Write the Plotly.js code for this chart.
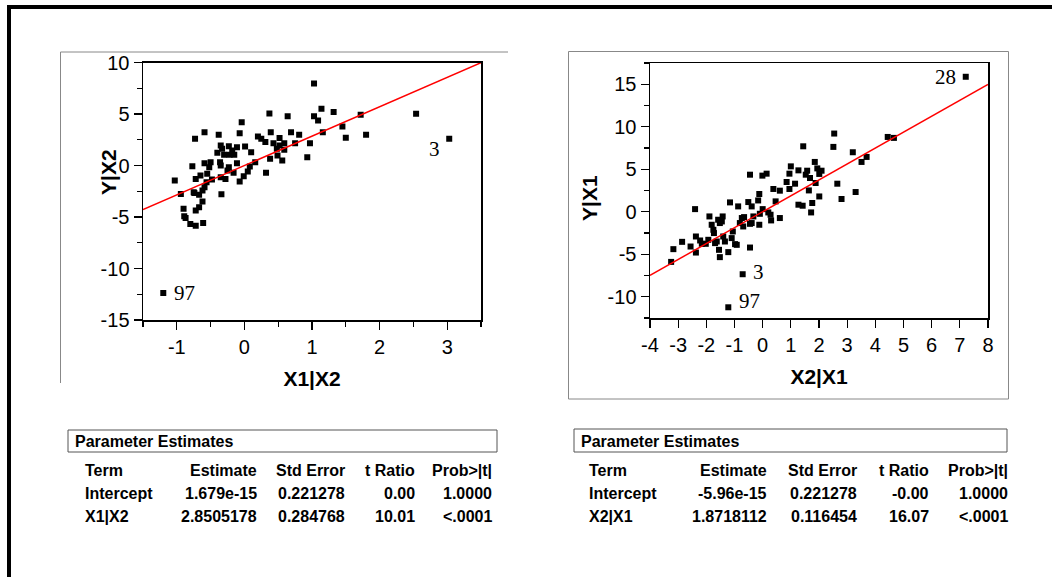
<!DOCTYPE html>
<html>
<head>
<meta charset="utf-8">
<script src="https://cdn.plot.ly/plotly-3.0.1.min.js"></script>
<style>html,body{margin:0;padding:0;background:#fff;}#chart{width:1052px;height:577px;}</style>
</head>
<body>
<div id="chart"></div>
<script>
// ---- Left leverage plot: Y|X2 vs X1|X2 ----
const leftX = [1.03,1.14,1.32,1.03,1.09,1.16,0.97,0.93,0.37,0.64,-0.04,-0.59,-0.73,-0.38,-0.07,0.20,0.25,0.31,0.39,0.52,0.69,0.81,0.75,0.43,0.52,0.59,0.48,0.59,0.49,0.38,0.56,0.32,0.16,0.01,0.10,-0.11,0.08,0.05,-0.01,-0.07,-0.35,-0.33,-0.40,-0.30,-0.23,-0.18,-0.11,-0.15,-0.22,-0.36,-0.35,-0.23,-0.25,-0.16,-0.35,-0.28,-0.34,-0.50,-0.59,-0.52,-0.55,-0.65,-0.72,-0.77,-0.48,-0.56,-0.59,-0.62,-0.75,-0.67,-0.62,-0.67,-0.72,-0.90,-0.89,-0.87,-0.80,-0.72,-0.61,-0.94,-1.03,-0.74,-1.20,1.72,1.45,1.50,1.80,2.54,3.03];
const leftY = [7.95,5.50,5.20,4.77,4.38,3.24,2.17,0.81,5.06,4.77,4.21,3.24,2.60,2.99,3.14,2.82,2.60,2.27,3.24,2.66,3.24,2.99,2.17,2.17,1.95,2.17,1.62,1.53,0.97,0.65,0.49,-0.71,0.32,1.85,1.29,0.22,-0.10,-0.58,-1.04,-1.56,1.95,1.62,1.24,1.04,1.88,1.46,1.78,1.04,1.04,0.32,0.00,-0.16,-0.49,-0.71,-1.14,-1.30,-2.79,0.32,0.22,-0.16,-0.81,-0.97,-1.30,-0.07,-1.36,-1.62,-2.11,-2.43,-2.60,-2.85,-3.50,-4.05,-4.38,-4.21,-4.93,-5.09,-5.67,-5.84,-5.58,-2.76,-1.46,-2.66,-12.38,4.93,3.79,2.69,2.99,5.03,2.60];
const leftLabelIdx = [82, 88];
const leftLabelText = ['97', '3'];
const leftXTitle = 'X1|X2';
const leftYTitle = 'Y|X2';
const leftXRange = [-1.5, 3.5];
const leftYRange = [-15, 10];
const leftXTicks = [-1, 0, 1, 2, 3];
const leftYTicks = [-15, -10, -5, 0, 5, 10];
const leftSlope = 2.8505178;
const leftIntercept = 1.679e-15;

// ---- Right leverage plot: Y|X1 vs X2|X1 ----
const rightX = [-3.25,-3.17,-2.86,-2.56,-2.37,-2.37,-2.22,-2.16,-2.02,-1.93,-2.40,-1.89,-1.81,-1.75,-1.73,-1.69,-1.63,-1.58,-1.52,-1.42,-1.45,-1.55,-1.52,-1.40,-1.34,-1.16,-1.10,-1.06,-0.98,-1.22,-0.92,-0.87,-0.81,-0.74,-0.69,-0.66,-0.51,-0.45,-0.45,-0.39,-0.45,-0.39,-0.33,-0.16,-0.12,-0.10,-0.12,-0.01,0.14,0.00,0.20,0.28,0.30,0.38,0.46,0.61,0.61,0.85,0.95,0.95,1.00,1.15,1.27,1.42,1.27,1.44,1.53,1.58,1.64,1.68,1.72,1.76,1.85,1.88,1.94,2.01,2.01,2.09,2.51,2.54,2.65,2.80,3.20,3.30,3.51,3.69,4.44,4.66,7.21,-0.71,-1.22];
const rightY = [-5.90,-4.40,-3.54,-4.09,-2.91,-4.80,-3.38,-3.77,-3.77,-3.30,0.31,-0.55,-1.53,-2.12,-2.51,-3.69,-3.50,-0.94,-1.33,-0.55,-1.14,-4.48,-5.34,-2.91,-3.50,1.10,-3.10,-2.32,-3.81,-4.75,-3.89,0.63,-1.33,-0.74,-1.73,-0.63,1.14,4.36,-4.21,0.63,-1.42,-1.33,-0.55,1.33,2.09,-0.24,-1.53,4.25,4.48,0.31,-0.08,-0.35,-1.02,2.68,1.22,-0.74,2.48,3.50,2.68,4.48,5.34,3.30,0.83,0.71,4.87,7.70,4.36,4.83,2.51,3.97,-0.08,1.03,5.86,3.38,5.10,1.80,4.45,4.83,7.63,9.20,3.30,1.50,7.00,2.32,5.86,6.45,8.80,8.69,15.88,-7.35,-11.24];
const rightLabelIdx = [88, 89, 90];
const rightLabelText = ['28', '3', '97'];
const rightXTitle = 'X2|X1';
const rightYTitle = 'Y|X1';
const rightXRange = [-4, 8];
const rightYRange = [-12.5, 17.5];
const rightXTicks = [-4, -3, -2, -1, 0, 1, 2, 3, 4, 5, 6, 7, 8];
const rightYTicks = [-10, -5, 0, 5, 10, 15];
const rightSlope = 1.8718112;
const rightIntercept = -5.96e-15;

// ---- Parameter estimate tables ----
const tableTitle = 'Parameter Estimates';
const tableCols = ['Term', 'Estimate', 'Std Error', 't Ratio', 'Prob&gt;|t|'];
const leftTerms = ['Intercept', 'X1|X2'];
const leftEstimate = ['1.679e-15', '2.8505178'];
const leftStdErr = ['0.221278', '0.284768'];
const leftTRatio = ['0.00', '10.01'];
const leftProb = ['1.0000', '&lt;.0001'];
const rightTerms = ['Intercept', 'X2|X1'];
const rightEstimate = ['-5.96e-15', '1.8718112'];
const rightStdErr = ['0.221278', '0.116454'];
const rightTRatio = ['-0.00', '16.07'];
const rightProb = ['1.0000', '&lt;.0001'];

// ---------------- drawing ----------------
const W = 1052, H = 577;
const PX = v => v / W;
const PY = v => 1 - v / H;
const FONT = 'Arial, "Liberation Sans", sans-serif';
const SERIF = '"Times New Roman", "Liberation Serif", serif';

function axisCommon(range, ticks, minorDtick, title, standoff) {
  const a = {
    range: range, autorange: false, fixedrange: true,
    tickmode: 'array', tickvals: ticks, ticktext: ticks.map(v => String(v)),
    ticks: 'outside', ticklen: 8, tickwidth: 1.3, tickcolor: '#000',
    showline: true, linecolor: '#000', linewidth: 1.5, mirror: true,
    showgrid: false, zeroline: false,
    tickfont: {family: FONT, size: 20, color: '#000'},
    title: {text: title, font: {family: FONT, size: 21, color: '#000', weight: 'bold'}, standoff: standoff},
    automargin: false
  };
  if (minorDtick) {
    a.minor = {tickmode: 'linear', dtick: minorDtick, tick0: 0, ticks: 'outside', ticklen: 5, tickwidth: 1.2, tickcolor: '#000', showgrid: false};
  }
  return a;
}

const traces = [
  {x: leftX, y: leftY, type: 'scatter', mode: 'markers', xaxis: 'x', yaxis: 'y',
   marker: {symbol: 'square', size: 6, color: '#000'}, hoverinfo: 'x+y', showlegend: false},
  {x: leftXRange, y: leftXRange.map(v => leftIntercept + leftSlope * v), type: 'scatter', mode: 'lines',
   xaxis: 'x', yaxis: 'y', line: {color: '#ff0000', width: 1.5}, hoverinfo: 'skip', showlegend: false},
  {x: rightX, y: rightY, type: 'scatter', mode: 'markers', xaxis: 'x2', yaxis: 'y2',
   marker: {symbol: 'square', size: 6, color: '#000'}, hoverinfo: 'x+y', showlegend: false},
  {x: rightXRange, y: rightXRange.map(v => rightIntercept + rightSlope * v), type: 'scatter', mode: 'lines',
   xaxis: 'x2', yaxis: 'y2', line: {color: '#ff0000', width: 1.5}, hoverinfo: 'skip', showlegend: false}
];

const annotations = [];
// point labels
const leftLabelStyle = [{xanchor: 'left', xshift: 9, yshift: 0}, {xanchor: 'right', xshift: -7, yshift: -10}];
leftLabelIdx.forEach((idx, i) => {
  annotations.push(Object.assign({x: leftX[idx], y: leftY[idx], xref: 'x', yref: 'y', text: leftLabelText[i],
    showarrow: false, yanchor: 'middle', font: {family: SERIF, size: 21, color: '#000'}}, leftLabelStyle[i]));
});
const rightLabelStyle = [{xanchor: 'right', xshift: -8, yshift: 0}, {xanchor: 'left', xshift: 8, yshift: 2}, {xanchor: 'left', xshift: 9, yshift: 6}];
rightLabelIdx.forEach((idx, i) => {
  annotations.push(Object.assign({x: rightX[idx], y: rightY[idx], xref: 'x2', yref: 'y2', text: rightLabelText[i],
    showarrow: false, yanchor: 'middle', font: {family: SERIF, size: 21, color: '#000'}}, rightLabelStyle[i]));
});

// vertical axis titles (placed tight against the tick labels, as in the reference)
const yTitleFont = {family: FONT, size: 21, color: '#000', weight: 'bold'};
annotations.push({xref: 'paper', yref: 'paper', x: PX(109), y: PY(172), text: leftYTitle, textangle: -90,
  showarrow: false, xanchor: 'center', yanchor: 'middle', font: yTitleFont});
annotations.push({xref: 'paper', yref: 'paper', x: PX(589), y: PY(198), text: rightYTitle, textangle: -90,
  showarrow: false, xanchor: 'center', yanchor: 'middle', font: yTitleFont});

// tables
function addTable(x0, x1, colPos, terms, est, se, tr, pr) {
  const tf = {family: FONT, size: 16, color: '#000'};
  annotations.push({xref: 'paper', yref: 'paper', x: PX(x0 + 5), y: PY(441), xanchor: 'left', yanchor: 'middle',
    text: '<b>' + tableTitle + '</b>', showarrow: false, font: tf});
  const rowsY = [470, 493, 516];
  const data = [tableCols, [terms[0], est[0], se[0], tr[0], pr[0]], [terms[1], est[1], se[1], tr[1], pr[1]]];
  data.forEach((row, r) => {
    row.forEach((txt, c) => {
      annotations.push({xref: 'paper', yref: 'paper', x: PX(colPos[c]), y: PY(rowsY[r]),
        xanchor: c === 0 ? 'left' : 'right', yanchor: 'middle', text: '<b>' + txt + '</b>',
        showarrow: false, font: tf});
    });
  });
}
addTable(68, 497, [83, 259, 347, 417, 494], leftTerms, leftEstimate, leftStdErr, leftTRatio, leftProb);
addTable(574, 1007, [587, 769, 859, 931, 1010], rightTerms, rightEstimate, rightStdErr, rightTRatio, rightProb);

const shapes = [
  // outer thick frame (top + left)
  {type: 'line', xref: 'paper', yref: 'paper', x0: PX(7), x1: PX(1052), y0: PY(7), y1: PY(7), line: {color: '#000', width: 4}},
  {type: 'line', xref: 'paper', yref: 'paper', x0: PX(9), x1: PX(9), y0: PY(5), y1: PY(577), line: {color: '#000', width: 4}},
  // left panel gray frame
  {type: 'line', xref: 'paper', yref: 'paper', x0: PX(60.5), x1: PX(60.5), y0: PY(52), y1: PY(383), line: {color: '#888', width: 1}},
  {type: 'line', xref: 'paper', yref: 'paper', x0: PX(60.5), x1: PX(508), y0: PY(52), y1: PY(52), line: {color: '#888', width: 1}},
  // right panel gray frame
  {type: 'rect', xref: 'paper', yref: 'paper', x0: PX(568.5), x1: PX(1008.5), y0: PY(51.5), y1: PY(399), line: {color: '#888', width: 1}},
  // table header boxes
  {type: 'rect', xref: 'paper', yref: 'paper', x0: PX(68), x1: PX(497), y0: PY(430), y1: PY(452), line: {color: '#555', width: 1}},
  {type: 'rect', xref: 'paper', yref: 'paper', x0: PX(574), x1: PX(1007), y0: PY(429), y1: PY(452), line: {color: '#555', width: 1}}
];

const layout = {
  width: W, height: H,
  margin: {l: 0, r: 0, t: 0, b: 0, pad: 0},
  paper_bgcolor: '#fff', plot_bgcolor: '#fff',
  showlegend: false,
  font: {family: FONT, color: '#000'},
  xaxis: Object.assign(axisCommon(leftXRange, leftXTicks, 0.5, leftXTitle, 15), {domain: [PX(143), PX(481)], anchor: 'y'}),
  yaxis: Object.assign(axisCommon(leftYRange, leftYTicks, 2.5, '', 10), {domain: [PY(320), PY(62.5)], anchor: 'x'}),
  xaxis2: Object.assign(axisCommon(rightXRange, rightXTicks, null, rightXTitle, 15), {domain: [PX(650), PX(988)], anchor: 'y2'}),
  yaxis2: Object.assign(axisCommon(rightYRange, rightYTicks, 2.5, '', 10), {domain: [PY(318), PY(63)], anchor: 'x2'}),
  annotations: annotations,
  shapes: shapes
};

Plotly.newPlot('chart', traces, layout, {staticPlot: true, displayModeBar: false});
</script>
</body>
</html>
